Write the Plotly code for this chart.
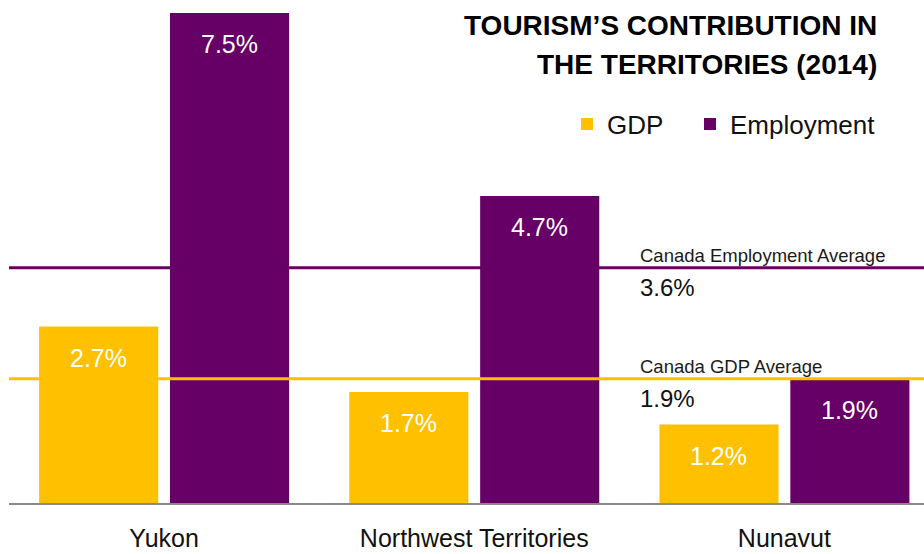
import plotly.graph_objects as go

categories = ["Yukon", "Northwest Territories", "Nunavut"]
gdp = [2.7, 1.7, 1.2]
employment = [7.5, 4.7, 1.9]
canada_gdp_avg = 1.9
canada_emp_avg = 3.6
title_lines = ["TOURISM\u2019S CONTRIBUTION IN", "THE TERRITORIES (2014)"]

GOLD = "#FFC000"
PURPLE = "#660066"
FONT = "Liberation Sans, Arial, sans-serif"

xs = list(range(len(categories)))
W = 0.384
OFF_GDP = -0.403
OFF_EMP = 0.019

fig = go.Figure()
fig.add_trace(go.Bar(x=xs, y=gdp, name="GDP\u00a0\u00a0\u00a0", marker_color=GOLD, width=W,
                     offset=OFF_GDP, marker_line_width=0, hoverinfo="skip"))
fig.add_trace(go.Bar(x=xs, y=employment, name="Employment", marker_color=PURPLE, width=W,
                     offset=OFF_EMP, marker_line_width=0, hoverinfo="skip"))

annotations = []
for i, v in enumerate(gdp):
    annotations.append(dict(x=i + OFF_GDP + W / 2, y=v, xref="x", yref="y", text=f"{v:.1f}%",
                            showarrow=False, yanchor="middle", yshift=-31,
                            font=dict(color="white", size=25, family=FONT)))
for i, v in enumerate(employment):
    annotations.append(dict(x=i + OFF_EMP + W / 2, y=v, xref="x", yref="y", text=f"{v:.1f}%",
                            showarrow=False, yanchor="middle", yshift=-31,
                            font=dict(color="white", size=25, family=FONT)))

LX = (638 - 9) / 915
annotations += [
    dict(x=LX, y=canada_emp_avg, xref="paper", yref="y", text="Canada Employment Average",
         showarrow=False, xanchor="left", yanchor="bottom", yshift=0,
         font=dict(size=18.5, color="#1a1a1a", family=FONT)),
    dict(x=LX, y=canada_emp_avg, xref="paper", yref="y", text=f"{canada_emp_avg:.1f}%",
         showarrow=False, xanchor="left", yanchor="top", yshift=-4,
         font=dict(size=24, color="#111111", family=FONT)),
    dict(x=LX, y=canada_gdp_avg, xref="paper", yref="y", text="Canada GDP Average",
         showarrow=False, xanchor="left", yanchor="bottom", yshift=0,
         font=dict(size=18.5, color="#1a1a1a", family=FONT)),
    dict(x=LX, y=canada_gdp_avg, xref="paper", yref="y", text=f"{canada_gdp_avg:.1f}%",
         showarrow=False, xanchor="left", yanchor="top", yshift=-4,
         font=dict(size=24, color="#111111", family=FONT)),
]
TX = (879 - 9) / 915
annotations += [
    dict(x=TX, y=1.0, xref="paper", yref="paper", text=f"<b>{title_lines[0]}</b>",
         showarrow=False, xanchor="right", yanchor="middle", yshift=-12,
         font=dict(size=28, color="#000000", family=FONT)),
    dict(x=TX, y=1.0, xref="paper", yref="paper", text=f"<b>{title_lines[1]}</b>",
         showarrow=False, xanchor="right", yanchor="middle", yshift=-51,
         font=dict(size=28, color="#000000", family=FONT)),
]

shapes = [
    dict(type="line", xref="paper", yref="y", x0=0, x1=1, y0=canada_emp_avg, y1=canada_emp_avg,
         line=dict(color=PURPLE, width=3), layer="above"),
    dict(type="line", xref="paper", yref="y", x0=0, x1=1, y0=canada_gdp_avg, y1=canada_gdp_avg,
         line=dict(color=GOLD, width=3), layer="above"),
]

fig.update_layout(
    width=924, height=554,
    margin=dict(l=9, r=0, t=13, b=51),
    paper_bgcolor="white", plot_bgcolor="white",
    barmode="overlay",
    showlegend=True,
    legend=dict(orientation="h", x=(881 - 9) / 915, xanchor="right", y=(503 - 124) / 490,
                yanchor="middle", font=dict(size=26, color="#111111", family=FONT),
                bgcolor="rgba(0,0,0,0)"),
    annotations=annotations,
    shapes=shapes,
    xaxis=dict(range=[-0.5, 2.45], tickvals=xs, ticktext=categories, showgrid=False,
               zeroline=False, showline=True, linecolor="#898989", linewidth=2, ticks="",
               tickfont=dict(size=25, color="#111111", family=FONT), ticklabelstandoff=12,
               automargin=False, fixedrange=True),
    yaxis=dict(range=[0, 7.5], visible=False, showgrid=False, zeroline=False, fixedrange=True,
               automargin=False),
)

fig.write_html("out.html", config={"displayModeBar": False},
               post_script="document.body.style.margin='0';document.body.style.overflow='hidden';")
